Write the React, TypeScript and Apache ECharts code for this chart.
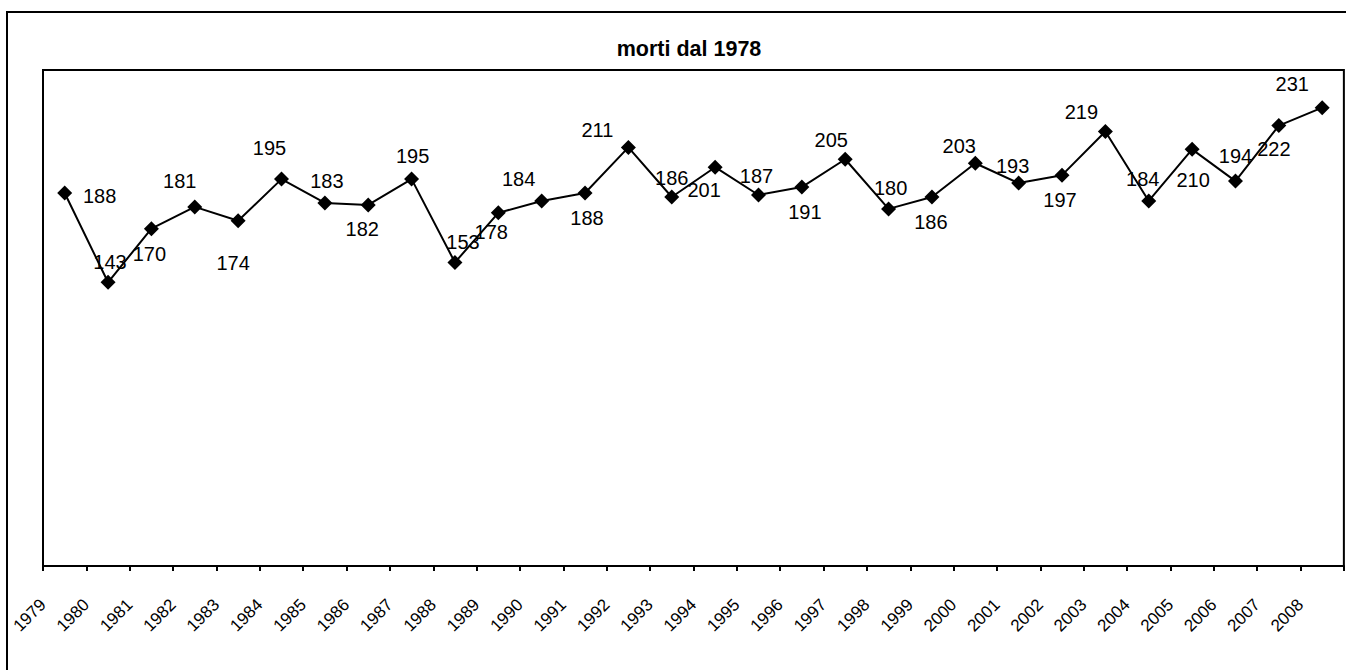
import React, { useEffect, useRef } from "react";
import * as echarts from "echarts";

const TITLE = "morti dal 1978";
const TICK_LABELS = [
  "1979", "1980", "1981", "1982", "1983", "1984", "1985", "1986", "1987", "1988",
  "1989", "1990", "1991", "1992", "1993", "1994", "1995", "1996", "1997", "1998",
  "1999", "2000", "2001", "2002", "2003", "2004", "2005", "2006", "2007", "2008",
];
const VALUES = [
  188, 143, 170, 181, 174, 195, 183, 182, 195, 153,
  178, 184, 188, 211, 186, 201, 187, 191, 205, 180,
  186, 203, 193, 197, 219, 184, 210, 194, 222, 231,
];
const Y_MIN = 0;
const Y_MAX = 250;

// label placement (layout only): offset of each data label from its marker
const LABEL_OFFSETS: [number, number][] = [
  [35, 3], [2, -20], [-2, 25], [-15, -26], [-5, 42], [-12, -31], [2, -22], [-6, 24], [1, -23], [8, -20],
  [-7, 19], [-23, -22], [2, 25], [-31, -17], [0, -19], [-11, 23], [-2, -19], [3, 25], [-14, -19], [2, -21],
  [-1, 25], [-16, -17], [-6, -17], [-2, 25], [-24, -20], [-6, -22], [1, 31], [0, -25], [-5, 23], [-30, -24],
];

const FONT = "'Liberation Sans', Arial, sans-serif";

export default function App() {
  const ref = useRef<HTMLDivElement>(null);
  useEffect(() => {
    if (!ref.current) return;
    const chart = echarts.init(ref.current, null, { renderer: "svg" });
    chart.setOption({
      animation: false,
      backgroundColor: "#fff",
      title: {
        text: TITLE,
        left: 684,
        top: 33,
        textAlign: "center",
        textStyle: { fontSize: 21.5, fontWeight: "bold", color: "#000", fontFamily: FONT },
      },
      graphic: [
        {
          type: "rect",
          z: -10,
          shape: { x: 7, y: 12, width: 1360, height: 700 },
          style: { fill: "none", stroke: "#000", lineWidth: 2 },
          silent: true,
        },
      ],
      grid: {
        left: 43,
        top: 70,
        right: 1,
        bottom: 104,
        show: true,
        borderColor: "#000",
        borderWidth: 2,
        backgroundColor: "transparent",
      },
      xAxis: [
        {
          type: "category",
          data: TICK_LABELS,
          boundaryGap: true,
          axisLine: { show: false },
          axisTick: { show: false },
          axisLabel: { show: false },
          splitLine: { show: false },
        },
        {
          type: "category",
          position: "bottom",
          data: [...TICK_LABELS, ""],
          boundaryGap: false,
          axisLine: { show: true, lineStyle: { color: "#000", width: 2 } },
          axisTick: { show: true, length: 5, interval: 0, lineStyle: { color: "#000", width: 2 } },
          axisLabel: {
            show: true,
            interval: 0,
            rotate: 45,
            margin: 36,
            fontSize: 17,
            color: "#000",
            fontFamily: FONT,
          },
          splitLine: { show: false },
        },
      ],
      yAxis: {
        type: "value",
        min: Y_MIN,
        max: Y_MAX,
        axisLine: { show: false },
        axisTick: { show: false },
        axisLabel: { show: false },
        splitLine: { show: false },
      },
      series: [
        {
          type: "line",
          xAxisIndex: 0,
          data: VALUES.map((v, i) => ({ value: v, label: { offset: LABEL_OFFSETS[i] } })),
          symbol: "diamond",
          symbolSize: 15,
          itemStyle: { color: "#000" },
          lineStyle: { color: "#000", width: 2 },
          label: {
            show: true,
            position: "inside",
            fontSize: 20,
            color: "#000",
            fontFamily: FONT,
          },
        },
      ],
    });
    return () => chart.dispose();
  }, []);
  return (
    <div
      ref={ref}
      style={{ position: "fixed", left: 0, top: 0, width: 1346, height: 670, background: "#fff" }}
    />
  );
}
